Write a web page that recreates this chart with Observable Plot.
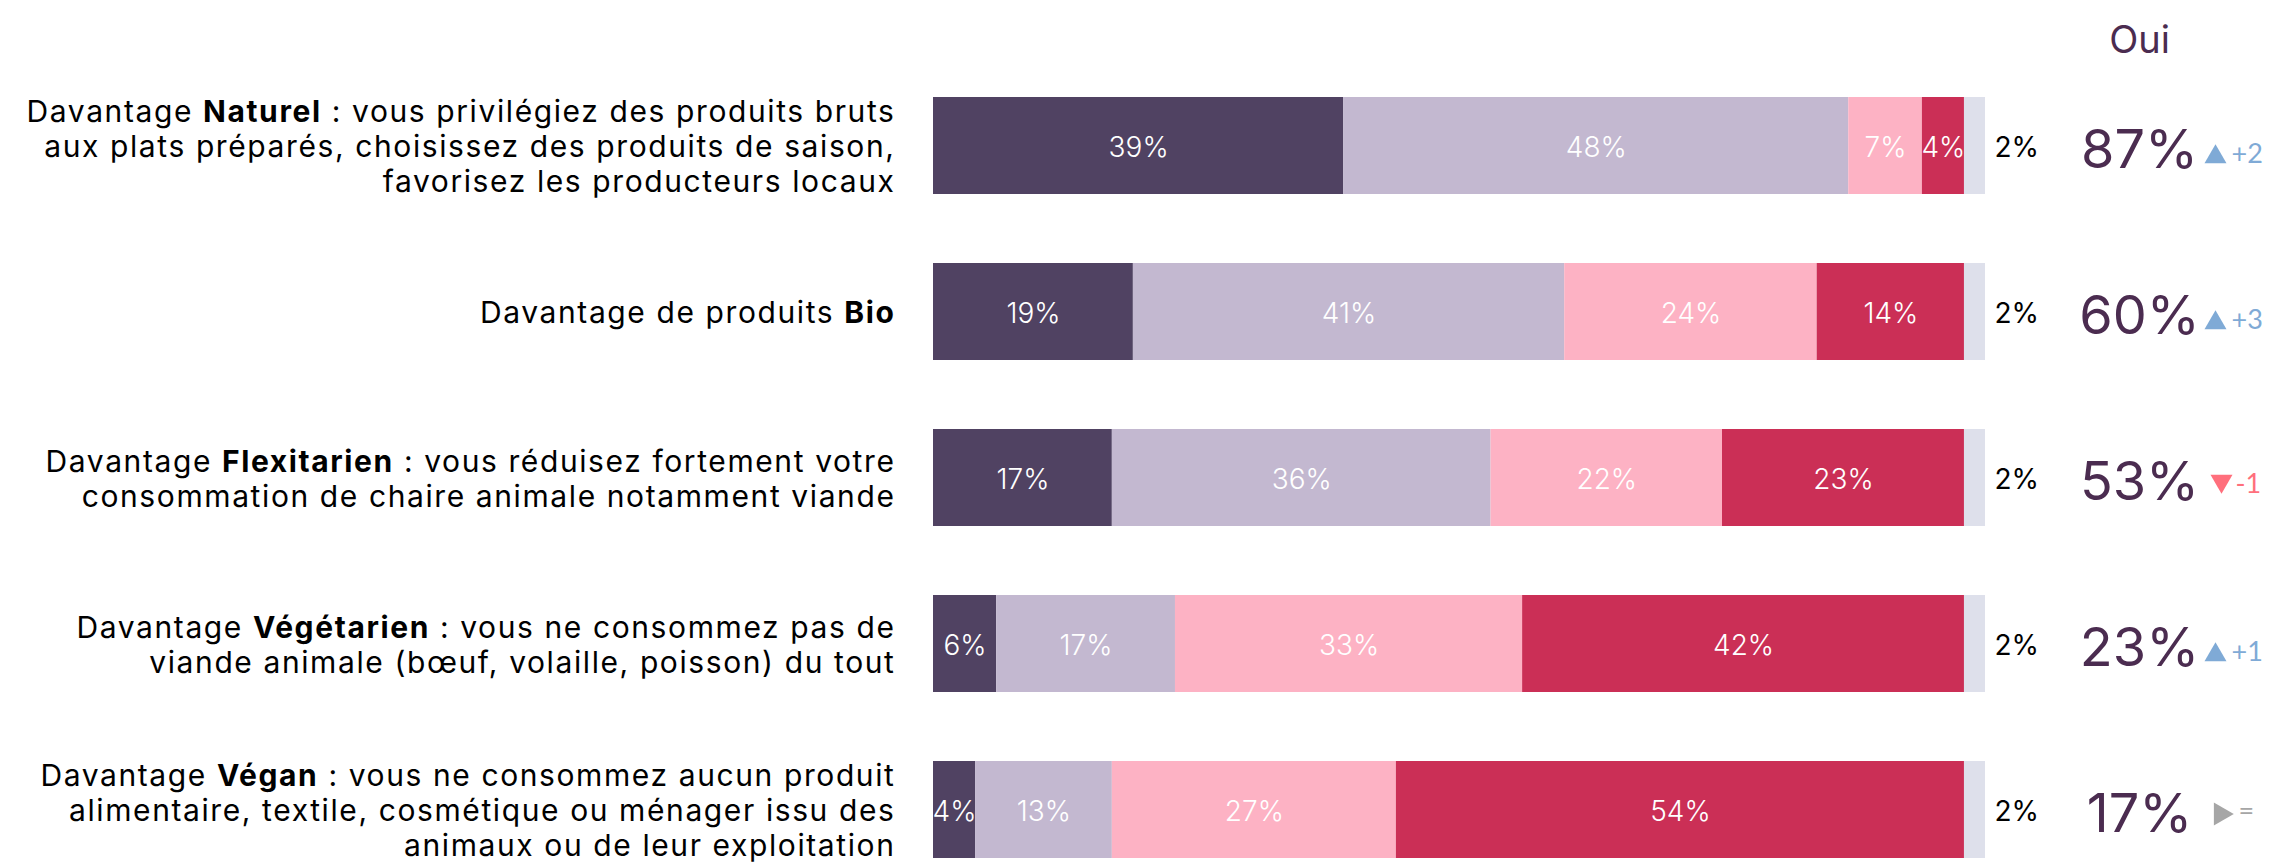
<!DOCTYPE html>
<html><head><meta charset="utf-8">
<script src="https://cdn.jsdelivr.net/npm/d3@7"></script>
<script src="https://cdn.jsdelivr.net/npm/@observablehq/plot@0.6"></script>
<style>body{margin:0;background:#fff;}</style>
</head><body><div id="chart"></div>
<script>
const labels = [
  "Davantage Naturel : vous privilégiez des produits bruts\naux plats préparés, choisissez des produits de saison,\nfavorisez les producteurs locaux",
  "Davantage de produits Bio",
  "Davantage Flexitarien : vous réduisez fortement votre\nconsommation de chaire animale notamment viande",
  "Davantage Végétarien : vous ne consommez pas de\nviande animale (bœuf, volaille, poisson) du tout",
  "Davantage Végan : vous ne consommez aucun produit\nalimentaire, textile, cosmétique ou ménager issu des\nanimaux ou de leur exploitation"
];
const keywords = ["Naturel", "Bio", "Flexitarien", "Végétarien", "Végan"];
const responses = ["Oui, tout à fait", "Oui, plutôt", "Non, plutôt pas", "Non, pas du tout", "Ne se prononce pas"];
const toutAFait = [39, 19, 17, 6, 4];
const plutot    = [48, 41, 36, 17, 13];
const plutotPas = [7, 24, 22, 33, 27];
const pasDuTout = [4, 14, 23, 42, 54];
const nsp       = [2, 2, 2, 2, 2];
const oui       = [87, 60, 53, 23, 17];
const evolution = [2, 3, -1, 1, 0];
const colors = ["#504262", "#C3B8D0", "#FDB2C4", "#CB2F56", "#DEE0EB"];

const series = [toutAFait, plutot, plutotPas, pasDuTout, nsp];
const rows = [];
labels.forEach((c, i) => series.forEach((s, j) => rows.push({category: c, response: responses[j], value: s[i]})));
const summary = labels.map((c, i) => ({category: c, oui: oui[i], evo: evolution[i]}));
const ups = summary.filter(d => d.evo > 0);
const downs = summary.filter(d => d.evo < 0);
const flats = summary.filter(d => d.evo === 0);
const evoText = d => d.evo > 0 ? "+" + d.evo : d.evo < 0 ? "-" + Math.abs(d.evo) : "=";
const delta = {up: "#7FAAD6", down: "#FF6F7C", flat: "#A6A6A6"};

const chart = Plot.plot({
  width: 2293, height: 866,
  marginLeft: 933, marginRight: 308, marginTop: 95, marginBottom: 5,
  style: {fontFamily: "Inter, 'Noto Sans', sans-serif", fontSize: "27px", background: "#fff"},
  x: {domain: [0, 100], axis: null},
  y: {domain: labels, paddingInner: 0.413, paddingOuter: 0},
  color: {domain: responses, range: colors},
  marks: [
    Plot.axisY({tickSize: 0, tickPadding: 38, fontSize: 30, lineHeight: 1.167, label: null, fill: "#000"}),
    Plot.barX(rows, Plot.stackX({x: "value", y: "category", z: "response", fill: "response", order: null})),
    Plot.text(rows, Plot.stackX({x: "value", y: "category", z: "response", order: null,
      text: d => d.response === responses[4] ? "" : d.value + "%",
      fill: "#fff", fontSize: 28, fontWeight: 300, dy: 2})),
    Plot.text(rows.filter(d => d.response === responses[4]), {y: "category", text: d => d.value + "%",
      frameAnchor: "right", dx: 9, textAnchor: "start", fontSize: 28, fill: "#000", dy: 2}),
    Plot.text(["Oui"], {text: d => d, frameAnchor: "top-right", dx: 154, dy: -69, fontSize: 38, fill: "#4B2C50", textAnchor: "middle"}),
    Plot.text(summary, {y: "category", text: d => d.oui + "%", frameAnchor: "right", dx: 154, dy: 5,
      textAnchor: "middle", fontSize: 54, fill: "#4B2C50"}),
    Plot.dot(ups, {y: "category", frameAnchor: "right", dx: 230, dy: 11, symbol: "triangle2", r: 10.5, fill: delta.up, stroke: "none"}),
    Plot.dot(downs, {y: "category", frameAnchor: "right", dx: 236, dy: 3, symbol: "triangle2", rotate: 180, r: 10.5, fill: delta.down, stroke: "none"}),
    Plot.dot(flats, {y: "category", frameAnchor: "right", dx: 235, dy: 4, symbol: "triangle2", rotate: 90, r: 11, fill: delta.flat, stroke: "none"}),
    Plot.text(ups, {y: "category", text: evoText, frameAnchor: "right", dx: 246, dy: 8, textAnchor: "start",
      fontFamily: "Lato", fontSize: 27, fill: delta.up}),
    Plot.text(downs, {y: "category", text: evoText, frameAnchor: "right", dx: 250, dy: 6, textAnchor: "start",
      fontFamily: "Lato", fontSize: 27, fill: delta.down}),
    Plot.text(flats, {y: "category", text: evoText, frameAnchor: "right", dx: 253, dy: 1, textAnchor: "start",
      fontFamily: "Lato", fontSize: 27, fill: delta.flat})
  ]
});

// embolden the keyword inside each y-axis label
const SVGNS = "http://www.w3.org/2000/svg";
function wrapBold(node, word) {
  const t = node.textContent;
  const k = t.indexOf(word);
  if (k < 0) return false;
  node.textContent = "";
  node.append(document.createTextNode(t.slice(0, k)));
  const b = document.createElementNS(SVGNS, "tspan");
  b.setAttribute("font-weight", "bold");
  b.textContent = word;
  node.append(b);
  node.append(document.createTextNode(t.slice(k + word.length)));
  return true;
}
const axisGroup = chart.querySelector('g[aria-label="y-axis tick label"]');
if (axisGroup) axisGroup.style.letterSpacing = "1.6px";
chart.querySelectorAll('g[aria-label="y-axis tick label"] text').forEach(text => {
  const full = text.textContent;
  const word = keywords.find(w => full.includes(w));
  if (!word) return;
  const spans = text.querySelectorAll("tspan");
  if (spans.length) { for (const s of spans) if (wrapBold(s, word)) break; }
  else wrapBold(text, word);
});
document.getElementById("chart").append(chart);
</script>
</body></html>
